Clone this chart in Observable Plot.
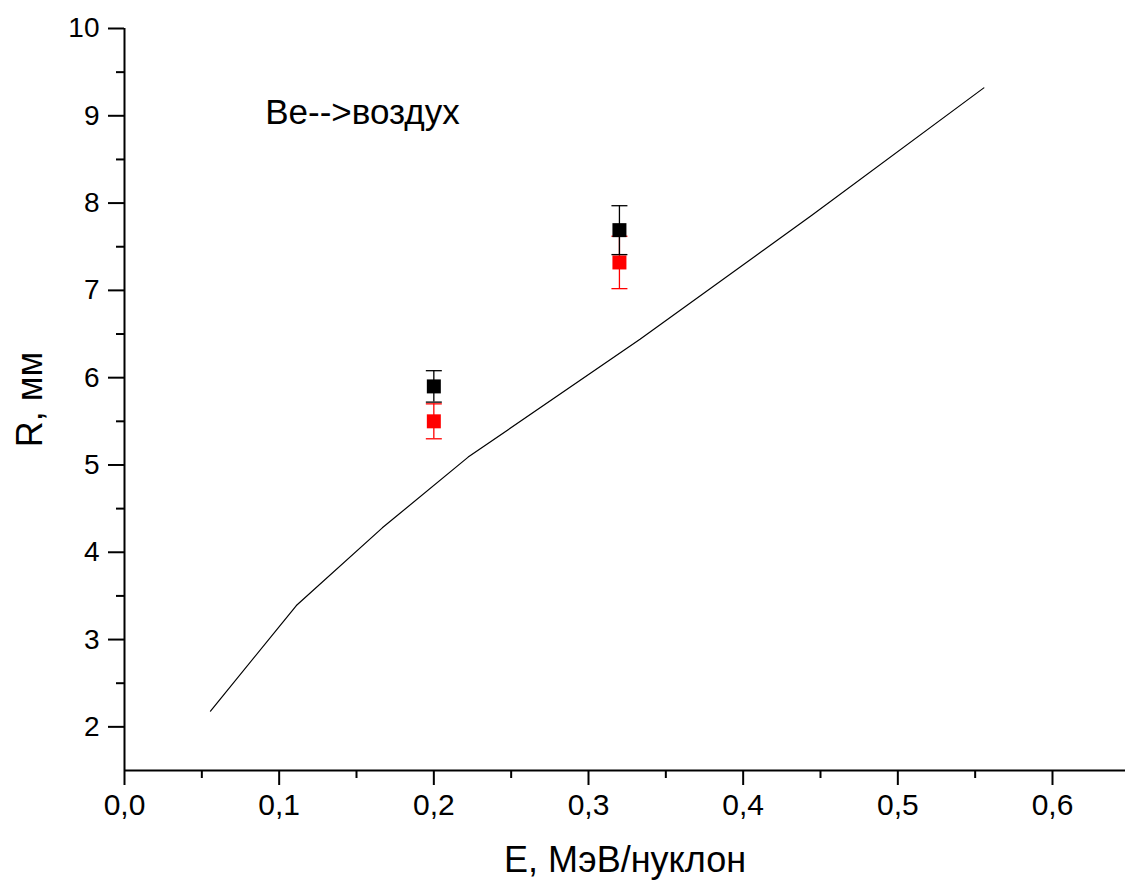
<!DOCTYPE html>
<html>
<head>
<meta charset="utf-8">
<script src="https://cdn.jsdelivr.net/npm/d3@7"></script>
<script src="https://cdn.jsdelivr.net/npm/@observablehq/plot@0.6"></script>
<style>
  html, body { margin: 0; padding: 0; background: #fff; }
  #chart { width: 1125px; height: 886px; }
  svg { font-family: "Liberation Sans", Arial, sans-serif; }
</style>
</head>
<body>
<div id="chart"></div>
<script>
// Calculated range curve
const lineE = [0.0556, 0.1111, 0.1667, 0.2222, 0.3333, 0.4444, 0.5556];
const lineR = [2.18, 3.39, 4.28, 5.09, 6.44, 7.86, 9.32];

// Experimental points
const expE = [0.2, 0.32];
const blackR = [5.90, 7.69];
const blackErr = [0.18, 0.28];
const redR = [5.50, 7.32];
const redErr = [0.20, 0.30];

// Axis ticks
const xMajor = [0, 0.1, 0.2, 0.3, 0.4, 0.5, 0.6];
const xMinor = [0.05, 0.15, 0.25, 0.35, 0.45, 0.55];
const yMajor = [2, 3, 4, 5, 6, 7, 8, 9, 10];
const yMinor = [2.5, 3.5, 4.5, 5.5, 6.5, 7.5, 8.5, 9.5];

const annotation = "Be-->воздух";
const xTitle = "E, МэВ/нуклон";
const yTitle = "R, мм";

const curve = lineE.map((e, i) => ({e, r: lineR[i]}));
const black = expE.map((e, i) => ({e, r: blackR[i], lo: blackR[i] - blackErr[i], hi: blackR[i] + blackErr[i]}));
const red = expE.map((e, i) => ({e, r: redR[i], lo: redR[i] - redErr[i], hi: redR[i] + redErr[i]}));

const cap = { draw(ctx) { ctx.moveTo(-8, 0); ctx.lineTo(8, 0); } };
const fmtX = d => d3.format(".1f")(d).replace(".", ",");
const fmtY = d3.format("d");

function errMarks(data, color) {
  return [
    Plot.ruleX(data, {x: "e", y1: "lo", y2: "hi", stroke: color, strokeWidth: 1.3}),
    Plot.dot(data, {x: "e", y: "lo", symbol: cap, stroke: color, strokeWidth: 1.3, r: 8}),
    Plot.dot(data, {x: "e", y: "hi", symbol: cap, stroke: color, strokeWidth: 1.3, r: 8}),
    Plot.dot(data, {x: "e", y: "r", symbol: "square", fill: color, stroke: "none", r: 7.9})
  ];
}

const chart = Plot.plot({
  width: 1125,
  height: 886,
  marginLeft: 124,
  marginRight: 0,
  marginTop: 28,
  marginBottom: 116,
  style: {fontFamily: "'Liberation Sans', Arial, sans-serif", color: "#000", background: "#fff"},
  x: {domain: [0, 0.6472]},
  y: {domain: [1.5, 10]},
  marks: [
    Plot.axisX(xMajor, {tickSize: 15, tickPadding: 8, tickFormat: fmtX, fontSize: 30, strokeWidth: 2, label: null, color: "#000"}),
    Plot.axisX(xMinor, {tickSize: 8, text: null, strokeWidth: 2, label: null}),
    Plot.axisY(yMajor, {tickSize: 16, tickPadding: 9, tickFormat: fmtY, fontSize: 28, strokeWidth: 2, label: null, color: "#000"}),
    Plot.axisY(yMinor, {tickSize: 8, text: null, strokeWidth: 2, label: null}),
    Plot.ruleX([0], {stroke: "#000", strokeWidth: 2}),
    Plot.ruleY([1.5], {stroke: "#000", strokeWidth: 2}),
    Plot.line(curve, {x: "e", y: "r", stroke: "#000", strokeWidth: 1.2}),
    ...errMarks(red, "#ff0000"),
    ...errMarks(black, "#000"),
    Plot.text([annotation], {x: [0.091], y: [9.03], text: d => d, textAnchor: "start", fontSize: 35, fill: "#000"}),
    Plot.text([xTitle], {frameAnchor: "bottom", dy: 90, lineAnchor: "middle", textAnchor: "middle", text: d => d, fontSize: 36, fill: "#000"}),
    Plot.text([yTitle], {frameAnchor: "left", dx: -94, rotate: -90, textAnchor: "middle", lineAnchor: "middle", text: d => d, fontSize: 36, fill: "#000"})
  ]
});
document.getElementById("chart").appendChild(chart);
</script>
</body>
</html>
